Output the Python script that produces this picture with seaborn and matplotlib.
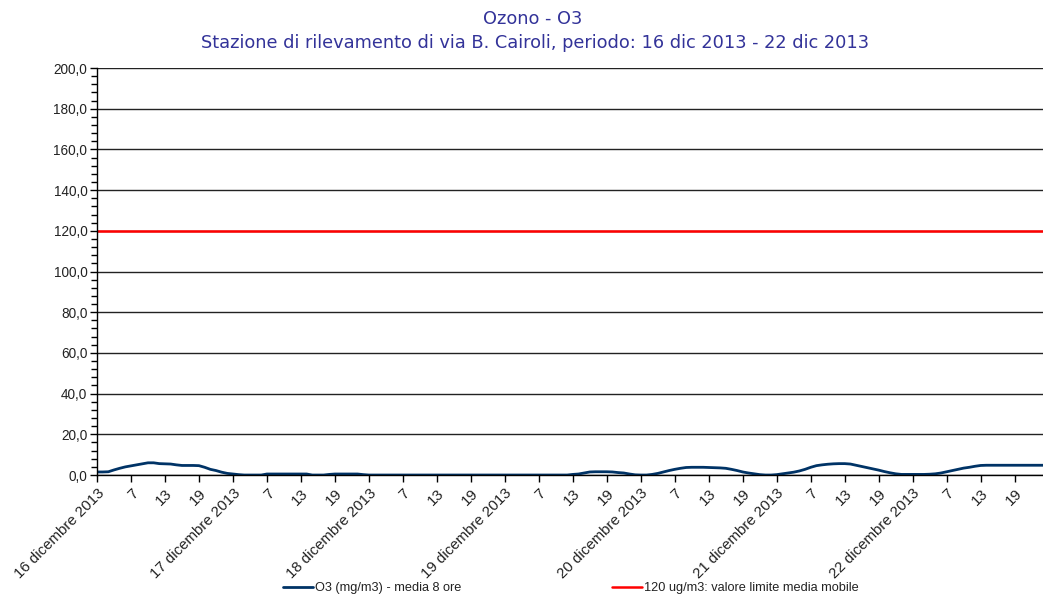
import numpy as np
import pandas as pd
import matplotlib
matplotlib.use("Agg")
import matplotlib.pyplot as plt
import seaborn as sns
from matplotlib.ticker import FuncFormatter, MultipleLocator

# Ozone 8h moving average, one value per hour (hours 1..24 of each day)
days = ["16 dicembre 2013", "17 dicembre 2013", "18 dicembre 2013", "19 dicembre 2013",
        "20 dicembre 2013", "21 dicembre 2013", "22 dicembre 2013"]
o3_16 = [1.5, 1.5, 1.6, 2.5, 3.3, 4.0, 4.5, 5.0, 5.5, 6.0, 6.0, 5.6,
         5.5, 5.4, 5.0, 4.7, 4.7, 4.7, 4.6, 3.8, 2.8, 2.2, 1.4, 0.8]
o3_17 = [0.5, 0.2, 0.0, 0.0, 0.0, 0.0, 0.5, 0.5, 0.5, 0.5, 0.5, 0.5,
         0.5, 0.5, 0.0, 0.0, 0.0, 0.3, 0.5, 0.5, 0.5, 0.5, 0.5, 0.2]
o3_18 = [0.0] * 24
o3_19 = [0.0, 0.0, 0.0, 0.0, 0.0, 0.0, 0.0, 0.0, 0.0, 0.0, 0.0, 0.0,
         0.3, 0.5, 1.0, 1.5, 1.6, 1.6, 1.6, 1.5, 1.2, 1.0, 0.5, 0.1]
o3_20 = [0.0, 0.0, 0.3, 0.8, 1.5, 2.2, 2.8, 3.3, 3.7, 3.8, 3.8, 3.8,
         3.7, 3.6, 3.5, 3.3, 2.8, 2.2, 1.5, 1.0, 0.6, 0.2, 0.0, 0.0]
o3_21 = [0.2, 0.6, 1.0, 1.4, 2.0, 2.8, 3.8, 4.6, 5.0, 5.3, 5.5, 5.6,
         5.6, 5.4, 4.8, 4.2, 3.6, 3.0, 2.4, 1.7, 1.1, 0.6, 0.3, 0.3]
o3_22 = [0.3, 0.3, 0.3, 0.4, 0.6, 1.0, 1.6, 2.2, 2.8, 3.4, 3.8, 4.3,
         4.7, 4.8, 4.8, 4.8, 4.8, 4.8, 4.8, 4.8, 4.8, 4.8, 4.8, 4.8]
limit = 120.0

o3 = o3_16 + o3_17 + o3_18 + o3_19 + o3_20 + o3_21 + o3_22
n = len(o3)
df = pd.DataFrame({"ora": np.arange(n), "o3": o3, "limite": [limit] * n})

sns.set_theme(style="white")
plt.rcParams["font.family"] = ["Liberation Sans", "DejaVu Sans"]

fig = plt.figure(figsize=(10.43, 5.94), dpi=100)
ax = fig.add_axes([0.093, 0.2003, 0.907, 0.6852])

ax.yaxis.grid(True, color="#222222", linewidth=1)
ax.set_axisbelow(True)
sns.lineplot(data=df, x="ora", y="limite", color="#ff0000", linewidth=1.8, ax=ax,
             label="120 ug/m3: valore limite media mobile")
sns.lineplot(data=df, x="ora", y="o3", color="#003366", linewidth=2, ax=ax,
             label="O3 (mg/m3) - media 8 ore")

ax.set_xlim(0, n - 1)
ax.set_ylim(0, 200)
ax.yaxis.set_major_locator(MultipleLocator(20))
ax.yaxis.set_minor_locator(MultipleLocator(4))
ax.yaxis.set_major_formatter(FuncFormatter(lambda v, p: f"{v:.1f}".replace(".", ",")))

xt = np.arange(0, n, 6)
labels = []
for t in xt:
    if t % 24 == 0:
        labels.append(days[t // 24])
    else:
        labels.append(str(t % 24 + 1))
ax.set_xticks(xt)
ax.set_xticklabels(labels, rotation=45, ha="right", rotation_mode="anchor")

ax.tick_params(axis="both", which="both", direction="out", color="#000000",
               labelcolor="#222222")
ax.tick_params(axis="y", which="major", length=5, width=1, left=True, pad=2, labelsize=9.8)
ax.tick_params(axis="y", which="minor", length=4, width=1, left=True)
ax.tick_params(axis="x", which="major", length=5, width=1, bottom=True, pad=3, labelsize=10.8)
ax.set_xlabel("")
ax.set_ylabel("")

for s in ["top", "right"]:
    ax.spines[s].set_visible(False)
for s in ["left", "bottom"]:
    ax.spines[s].set_color("#000000")
    ax.spines[s].set_linewidth(1)

fig.text(0.511, 0.968, "Ozono - O3", ha="center", va="center", fontsize=12.8,
         color="#333399", family="DejaVu Sans")
fig.text(0.5125, 0.928, "Stazione di rilevamento di via B. Cairoli, periodo: 16 dic 2013 - 22 dic 2013",
         ha="center", va="center", fontsize=12.8, color="#333399", family="DejaVu Sans")

h, l = ax.get_legend_handles_labels()
ax.legend_.remove()
fig.legend(h[::-1], l[::-1], loc="center", bbox_to_anchor=(0.547, 0.01), ncol=2,
           frameon=False, fontsize=9.2, handlelength=2.4, handletextpad=0.1,
           columnspacing=11.8, labelcolor="#222222")

fig.savefig("out.png", dpi=100)
